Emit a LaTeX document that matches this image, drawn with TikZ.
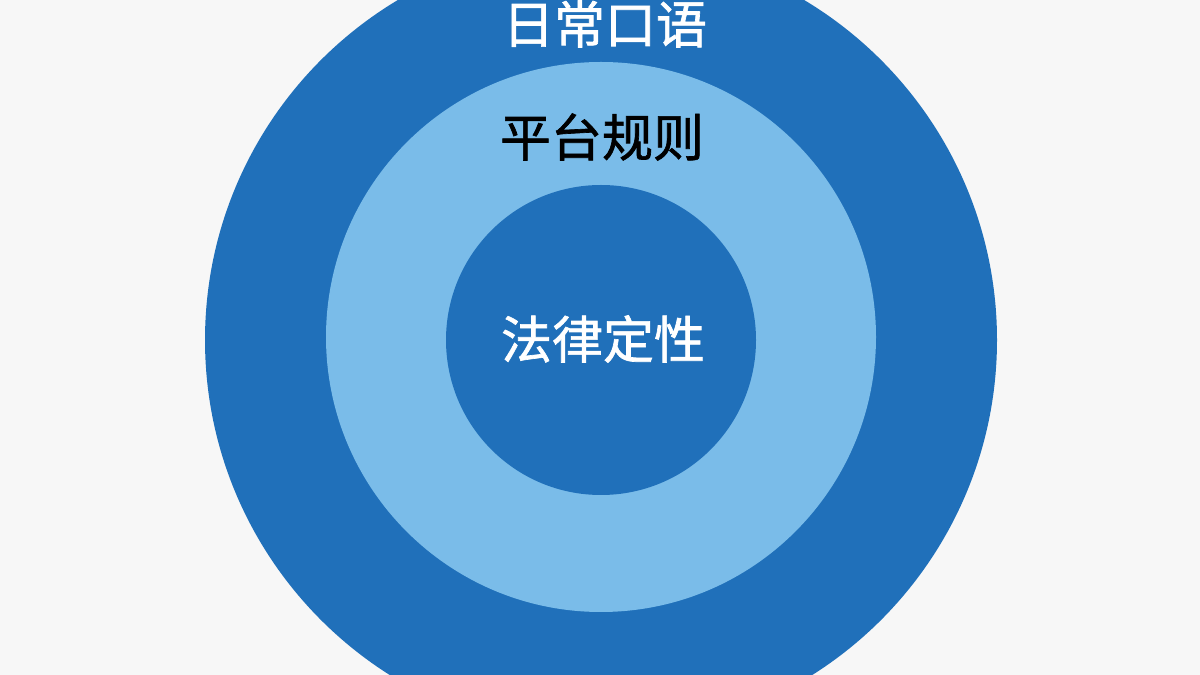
\documentclass[tikz,border=0pt]{standalone}
\usepackage{fontspec}
\newfontfamily\cjk[FakeBold=1.3]{Noto Sans CJK SC}
\usepackage{tikz}
\usetikzlibrary{positioning}

\definecolor{ringdark}{HTML}{2070BA}
\definecolor{ringlight}{HTML}{7ABCE9}
\definecolor{pagebg}{HTML}{F7F7F7}

\tikzset{
  ring/.style={shape=circle,inner sep=0pt,draw=none},
  lbl/.style={font=\cjk\fontsize{51}{58}\selectfont,inner sep=0pt}
}

\begin{document}
\begin{tikzpicture}[x=1pt,y=1pt]
		\useasboundingbox[fill=pagebg] (0,0) rectangle (1200,675);
		\clip (0,0) rectangle (1200,675);
		\node(outer) at (601,335) [ring,fill=ringdark,minimum size=792pt] {};
		\node(middle) at (601,338) [ring,fill=ringlight,minimum size=550pt] {};
		\node(inner) at (601,335) [ring,fill=ringdark,minimum size=310pt] {};
		\node(law) at (603,336) [lbl,text=white] {法律定性};
		\node(rules) at (602,538) [lbl,text=black] {平台规则};
		\node(talk) at (605,651) [lbl,text=white] {日常口语};
	\end{tikzpicture}
\end{document}
